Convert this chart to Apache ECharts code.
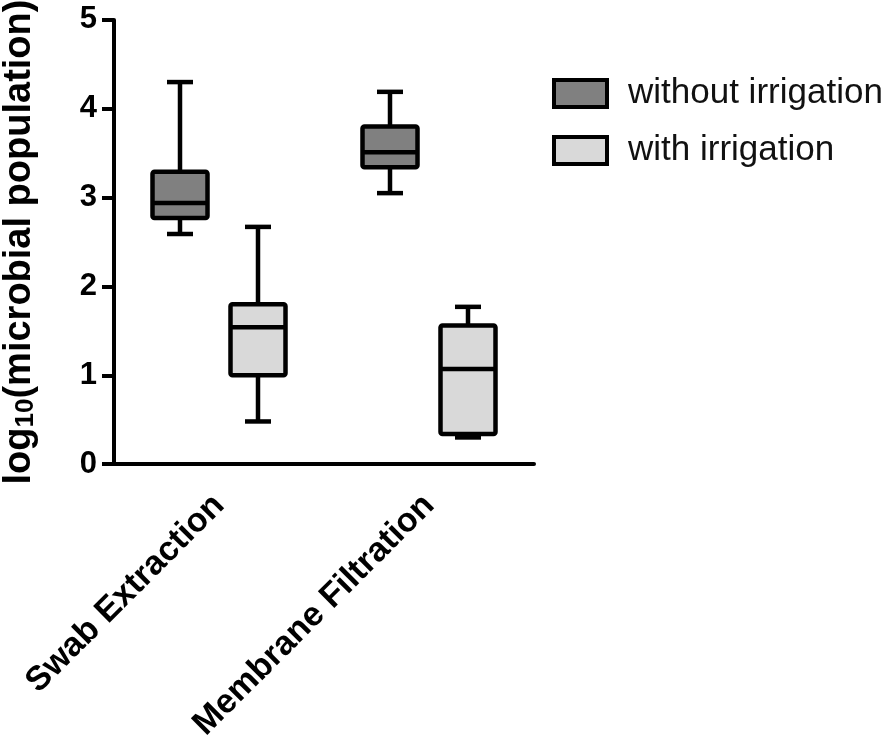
<!DOCTYPE html>
<html>
<head>
<meta charset="utf-8">
<script src="https://cdn.jsdelivr.net/npm/echarts@6/dist/echarts.min.js"></script>
<style>html,body{margin:0;padding:0;background:#fff}#c{width:896px;height:744px}</style>
</head>
<body>
<div id="c"></div>
<script>
const categories = ['Swab Extraction', 'Membrane Filtration'];
const seriesNames = ['without irrigation', 'with irrigation'];
// [min, Q1, median, Q3, max]
const withoutIrrigation = [
  [2.59, 2.77, 2.94, 3.29, 4.30],
  [3.05, 3.34, 3.51, 3.80, 4.19]
];
const withIrrigation = [
  [0.48, 1.00, 1.54, 1.80, 2.67],
  [0.30, 0.34, 1.07, 1.56, 1.77]
];
const yTicks = [0, 1, 2, 3, 4, 5];

const FONT = '"Liberation Sans", Arial, sans-serif';
const fills = ['#808080', '#d9d9d9'];
const offsets = [-39, 39];
const BOX_W = 55, CAP_W = 26, LW = 4.5;

function makeRender(offset, fill) {
  return function (params, api) {
    const cat = api.value(0);
    const c = v => api.coord([cat, v]);
    const x = c(api.value(1))[0] + offset;
    const yMin = c(api.value(1))[1], yQ1 = c(api.value(2))[1], yMed = c(api.value(3))[1],
          yQ3 = c(api.value(4))[1], yMax = c(api.value(5))[1];
    const ls = { stroke: '#000', lineWidth: LW };
    return {
      type: 'group',
      children: [
        { type: 'line', shape: { x1: x, y1: yMax, x2: x, y2: yQ3 }, style: ls },
        { type: 'line', shape: { x1: x, y1: yQ1, x2: x, y2: yMin }, style: ls },
        { type: 'line', shape: { x1: x - CAP_W / 2, y1: yMax, x2: x + CAP_W / 2, y2: yMax }, style: ls },
        { type: 'line', shape: { x1: x - CAP_W / 2, y1: yMin, x2: x + CAP_W / 2, y2: yMin }, style: ls },
        { type: 'rect', shape: { x: x - BOX_W / 2, y: yQ3, width: BOX_W, height: yQ1 - yQ3, r: 2 },
          style: { fill: fill, stroke: '#000', lineWidth: LW, lineJoin: 'round' } },
        { type: 'line', shape: { x1: x - BOX_W / 2, y1: yMed, x2: x + BOX_W / 2, y2: yMed }, style: ls }
      ]
    };
  };
}

const toData = arr => arr.map((d, i) => [i].concat(d));

const chart = echarts.init(document.getElementById('c'));
chart.setOption({
  backgroundColor: '#fff',
  animation: false,
  grid: { left: 113, right: 362, top: 14, bottom: 275 },
  legend: {
    orient: 'vertical',
    left: 547, top: 71,
    itemWidth: 53, itemHeight: 27, itemGap: 22,
    icon: 'rect',
    data: [
      { name: seriesNames[0], itemStyle: { color: fills[0], borderColor: '#000', borderWidth: 4 } },
      { name: seriesNames[1], itemStyle: { color: fills[1], borderColor: '#000', borderWidth: 4 } }
    ],
    textStyle: { fontFamily: FONT, fontSize: 35, color: '#111', padding: [0, 0, 0, 16] }
  },
  xAxis: {
    type: 'category',
    data: categories,
    boundaryGap: true,
    axisLine: { lineStyle: { color: '#000', width: 4 } },
    axisTick: { alignWithLabel: true, length: 11, lineStyle: { color: '#000', width: 4 } },
    axisLabel: { rotate: 45, margin: 36, fontFamily: FONT, fontWeight: 'bold', fontSize: 34, color: '#000' },
    splitLine: { show: false }
  },
  yAxis: {
    type: 'value', min: yTicks[0], max: yTicks[yTicks.length - 1], interval: 1,
    axisLine: { show: true, lineStyle: { color: '#000', width: 4 } },
    axisTick: { show: true, length: 12, lineStyle: { color: '#000', width: 4 } },
    axisLabel: { margin: 17, fontFamily: FONT, fontWeight: 'bold', fontSize: 31, color: '#000' },
    splitLine: { show: false },
    name: '{a|log}{s|10}{a|(microbial population)}',
    nameLocation: 'middle', nameRotate: 90, nameGap: 75,
    nameTextStyle: {
      rich: {
        a: { fontFamily: FONT, fontWeight: 'bold', fontSize: 38, color: '#000' },
        s: { fontFamily: FONT, fontWeight: 'bold', fontSize: 26, color: '#000', padding: [12, 0, 0, 0] }
      }
    }
  },
  series: [
    {
      name: seriesNames[0], type: 'custom', data: toData(withoutIrrigation),
      encode: { x: 0, y: [1, 2, 3, 4, 5] },
      itemStyle: { color: fills[0], borderColor: '#000', borderWidth: 4 },
      renderItem: makeRender(offsets[0], fills[0])
    },
    {
      name: seriesNames[1], type: 'custom', data: toData(withIrrigation),
      encode: { x: 0, y: [1, 2, 3, 4, 5] },
      itemStyle: { color: fills[1], borderColor: '#000', borderWidth: 4 },
      renderItem: makeRender(offsets[1], fills[1])
    }
  ]
});
</script>
</body>
</html>
